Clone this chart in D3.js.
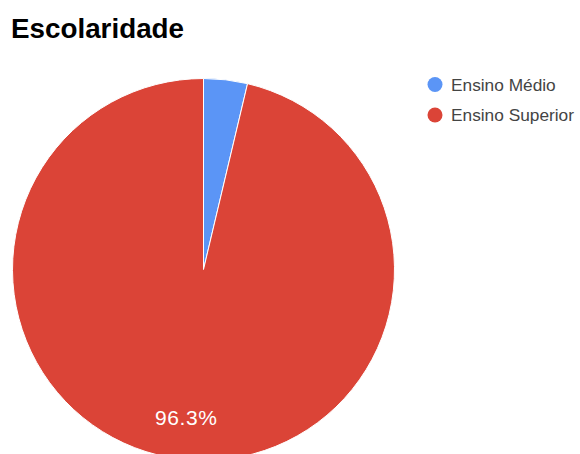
<!DOCTYPE html>
<html><head><meta charset="utf-8">
<script src="https://cdn.jsdelivr.net/npm/d3@7"></script>
<style>html,body{margin:0;padding:0;background:#fff;overflow:hidden}</style>
</head><body>
<svg id="c" width="580" height="454"></svg>
<script>
const title = "Escolaridade";
const categories = ["Ensino Médio", "Ensino Superior"];
const values = [1, 26];
const colors = ["#5b95f6", "#db4437"];

const svg = d3.select("#c");
const font = "Arial, 'Liberation Sans', sans-serif";

svg.append("text").attr("x", 11).attr("y", 38)
  .attr("font-family", font).attr("font-weight", "bold").attr("font-size", 27.8)
  .attr("fill", "#000").text(title);

const cx = 203.5, cy = 269.5, r = 191;
const data = categories.map((c, i) => ({cat: c, value: values[i], color: colors[i]}));
const total = d3.sum(values);
const pie = d3.pie().value(d => d.value).sort(null);
const arc = d3.arc().innerRadius(0).outerRadius(r);
const labelArc = d3.arc().innerRadius(r * 0.78).outerRadius(r * 0.78);
const g = svg.append("g").attr("transform", `translate(${cx},${cy})`);
const arcs = pie(data);
g.selectAll("path").data(arcs).join("path")
  .attr("d", arc).attr("fill", d => d.data.color)
  .attr("stroke", "#fff").attr("stroke-width", 1);

g.selectAll("text").data(arcs.filter(d => d.data.value / total > 0.05)).join("text")
  .attr("transform", d => `translate(${labelArc.centroid(d)})`)
  .attr("text-anchor", "middle").attr("dy", "0.36em")
  .attr("font-family", font).attr("font-size", 21).attr("letter-spacing", 0.6).attr("fill", "#fff")
  .text(d => d3.format(".1f")(d.data.value / total * 100) + "%");

const leg = svg.append("g");
const items = leg.selectAll("g").data(data).join("g")
  .attr("transform", (d, i) => `translate(435,${84.5 + i * 30.5})`);
items.append("circle").attr("r", 7.5).attr("fill", d => d.color);
items.append("text").attr("x", 16).attr("dy", "0.36em")
  .attr("font-family", font).attr("font-size", 17.3).attr("fill", "#444")
  .text(d => d.cat);
</script>
</body></html>
